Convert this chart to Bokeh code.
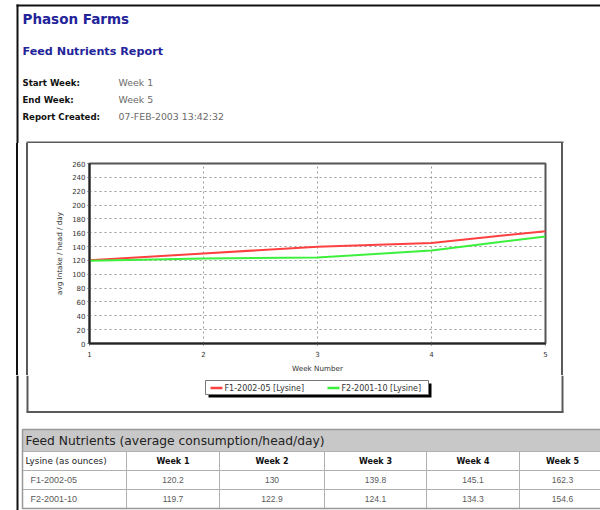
from bokeh.plotting import figure
from bokeh.layouts import column, row
from bokeh.models import Range1d, FixedTicker, Div
from bokeh.core.properties import value
from bokeh.embed import file_html
from bokeh.resources import INLINE

# ---------------- data ----------------
company = "Phason Farms"
report_title = "Feed Nutrients Report"
info_labels = ["Start Week:", "End Week:", "Report Created:"]
info_values = ["Week 1", "Week 5", "07-FEB-2003 13:42:32"]

weeks = [1, 2, 3, 4, 5]
week_labels = ["Week 1", "Week 2", "Week 3", "Week 4", "Week 5"]
nutrient = "Lysine"
series_names = ["F1-2002-05", "F2-2001-10"]
f1_values = [120.2, 130.0, 139.8, 145.1, 162.3]
f2_values = [119.7, 122.9, 124.1, 134.3, 154.6]
y_ticks = [0, 20, 40, 60, 80, 100, 120, 140, 160, 180, 200, 220, 240, 260]
x_title = "Week Number"
y_title = "avg Intake / head / day"
table_title = "Feed Nutrients (average consumption/head/day)"
table_corner = "Lysine (as ounces)"

series_values = [f1_values, f2_values]
series_colors = ["#ff4040", "#3cf03c"]

BLUE = "#23239a"
SANS = "Liberation Sans"
VERD = "DejaVu Sans"


def canvas(x0, x1, y0, y1):
    p = figure(width=x1 - x0, height=y1 - y0,
               x_range=Range1d(x0, x1), y_range=Range1d(y1, y0),
               x_axis_location=None, y_axis_location=None,
               toolbar_location=None, min_border=0,
               output_backend="svg", outline_line_color=None)
    p.grid.visible = False
    return p


def txt(p, x, y, s, size, color="#000000", bold=False, font=SANS, align="left"):
    p.text(x=[x], y=[y], text=[s], text_font=value(font),
           text_font_size=value(f"{size}px"), text_color=color,
           text_font_style="bold" if bold else "normal",
           text_align=align, text_baseline="middle")


def seg(p, x0, y0, x1, y1, color="#000000", width=2):
    p.segment(x0=[x0], y0=[y0], x1=[x1], y1=[y1], line_color=color, line_width=width)


FRAME_X = 17
BOX_L, BOX_R, BOX_T, BOX_B = 27, 562, 142, 411.5
BOX_COLOR = "#5a5a5a"

# ---------------- header ----------------
head = canvas(0, 600, 0, 143)
seg(head, FRAME_X - 1, 5, 600, 5, "#111111", 2)
seg(head, FRAME_X, 4, FRAME_X, 143, "#111111", 2)
seg(head, BOX_L - 1, BOX_T, BOX_R + 1, BOX_T, BOX_COLOR, 2)
txt(head, 22, 18, company, 13.5, BLUE, True, VERD)
txt(head, 22, 50.5, report_title, 11.2, BLUE, True, VERD)
for i, (lab, val) in enumerate(zip(info_labels, info_values)):
    yy = 82 + i * 17.2
    txt(head, 22, yy, lab, 8.6, "#111111", True, VERD)
    txt(head, 118, yy, val, 9.4, "#6a6a6a", False, VERD)

# ---------------- middle: left / chart / right ----------------
left = Div(text="", width=28, height=232, styles={
    "background": "linear-gradient(to right, #ffffff 0px, #ffffff 16px, #111111 16px, #111111 18px, "
                  "#ffffff 18px, #ffffff 26px, " + BOX_COLOR + " 26px, " + BOX_COLOR + " 28px)",
    "margin": "0", "padding": "0"})
right = Div(text="", width=40, height=232, styles={
    "background": "linear-gradient(to right, #ffffff 0px, #ffffff 1px, " + BOX_COLOR + " 1px, "
                  + BOX_COLOR + " 3px, #ffffff 3px, #ffffff 40px)",
    "margin": "0", "padding": "0"})

p = figure(width=532, height=232, x_range=Range1d(1, 5), y_range=Range1d(0, 260),
           toolbar_location=None, output_backend="svg",
           min_border_left=61, min_border_right=15, min_border_top=20, min_border_bottom=32)
for vals, col in zip(series_values, series_colors):
    p.line(weeks, vals, line_color=col, line_width=2)

p.xaxis.ticker = FixedTicker(ticks=weeks)
p.yaxis.ticker = FixedTicker(ticks=y_ticks)
p.xaxis.axis_label = x_title
p.yaxis.axis_label = y_title
for ax in (p.xaxis, p.yaxis):
    ax.major_label_text_font = VERD
    ax.major_label_text_font_size = "7px"
    ax.major_label_text_color = "#333333"
    ax.axis_label_text_font = VERD
    ax.axis_label_text_font_size = "7.2px"
    ax.axis_label_text_font_style = "normal"
    ax.axis_label_text_color = "#333333"
    ax.major_tick_out = 2
    ax.major_tick_in = 0
    ax.major_tick_line_color = "#555555"
    ax.minor_tick_line_color = None
    ax.axis_line_width = 2
    ax.axis_line_color = "#222222"
    ax.major_label_standoff = 2
p.xaxis.major_label_standoff = 5
p.xaxis.axis_label_standoff = 4
p.yaxis.axis_label_standoff = 5
p.grid.grid_line_dash = "2 3"
p.grid.grid_line_color = "#9a9a9a"
p.outline_line_color = "#555555"
p.outline_line_width = 2

# ---------------- bottom ----------------
bot = canvas(0, 600, 375, 510)
seg(bot, FRAME_X, 375, FRAME_X, 510, "#111111", 2)
seg(bot, BOX_L, 375, BOX_L, BOX_B, BOX_COLOR, 2)
seg(bot, BOX_R, 375, BOX_R, BOX_B, BOX_COLOR, 2)
seg(bot, BOX_L - 1, BOX_B, BOX_R + 1, BOX_B, BOX_COLOR, 2)

# legend
bot.quad(left=[208], right=[431], top=[383], bottom=[397], fill_color="#000000", line_color=None)
bot.quad(left=[205], right=[428], top=[380], bottom=[394], fill_color="#ffffff",
         line_color="#777777", line_width=1)
leg_x = [210, 327]
for i, (name, col) in enumerate(zip(series_names, series_colors)):
    seg(bot, leg_x[i], 387.5, leg_x[i] + 12, 387.5, col, 2.5)
    txt(bot, leg_x[i] + 14, 387.5, f"{name} [{nutrient}]", 8, "#333333", False, VERD)

# table
col_edges = [22, 126, 219, 324, 426, 519, 605]
row_edges = [429, 451, 470, 489, 508]
bot.quad(left=[col_edges[0]], right=[col_edges[-1]], top=[row_edges[0]], bottom=[row_edges[1]],
         fill_color="#c8c8c8", line_color="#9a9a9a", line_width=1)
txt(bot, 25, (row_edges[0] + row_edges[1]) / 2, table_title, 12.3, "#222222", False, VERD)

header_row = [table_corner] + week_labels
rows_text = [header_row] + [[n] + [f"{v:g}" for v in vals] for n, vals in zip(series_names, series_values)]
for r, cells in enumerate(rows_text):
    top_y, bot_y = row_edges[r + 1], row_edges[r + 2]
    cy = (top_y + bot_y) / 2
    for c, s in enumerate(cells):
        l, rr = col_edges[c], col_edges[c + 1]
        bot.quad(left=[l], right=[rr], top=[top_y], bottom=[bot_y], fill_color="#ffffff",
                 line_color="#b0b0b0", line_width=1)
        if r == 0:
            if c == 0:
                txt(bot, l + 3, cy, s, 8.8, "#222222", False, VERD)
            else:
                txt(bot, (l + rr) / 2, cy, s, 8, "#111111", True, VERD, "center")
        else:
            if c == 0:
                txt(bot, l + 8, cy, s, 9, "#5a5a5a", False, SANS)
            else:
                txt(bot, (l + rr) / 2, cy, s, 8.5, "#5a5a5a", False, SANS, "center")
bot.quad(left=[col_edges[0]], right=[col_edges[-1]], top=[row_edges[0]], bottom=[row_edges[-1]],
         fill_color=None, line_color="#999999", line_width=1.5)

layout = column(head, row(left, p, right), bot)
open("out.html", "w").write(file_html(layout, INLINE))
